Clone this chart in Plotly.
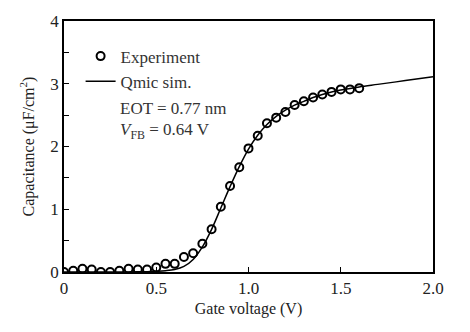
import plotly.graph_objects as go

exp_v = [0.0, 0.05, 0.1, 0.15, 0.2, 0.25, 0.3, 0.35, 0.4, 0.45, 0.5, 0.55, 0.6, 0.65, 0.7,
         0.75, 0.8, 0.85, 0.9, 0.95, 1.0, 1.05, 1.1, 1.15, 1.2, 1.25, 1.3, 1.35, 1.4, 1.45,
         1.5, 1.55, 1.6]
exp_c = [0.0, 0.02, 0.05, 0.04, 0.0, 0.0, 0.02, 0.05, 0.04, 0.04, 0.07, 0.13, 0.13, 0.24, 0.30,
         0.45, 0.68, 1.04, 1.37, 1.67, 1.97, 2.17, 2.37, 2.46, 2.55, 2.66, 2.72, 2.78, 2.83, 2.87,
         2.91, 2.91, 2.93]

sim_v = [0.0, 0.1, 0.2, 0.3, 0.4, 0.45, 0.5, 0.55, 0.6, 0.65, 0.7, 0.75, 0.8, 0.85, 0.9, 0.95,
         1.0, 1.05, 1.1, 1.15, 1.2, 1.25, 1.3, 1.35, 1.4, 1.45, 1.5, 1.6, 1.7, 1.8, 1.9, 2.0]
sim_c = [0.0, 0.0, 0.0, 0.0, 0.003, 0.005, 0.01, 0.02, 0.04, 0.09, 0.2, 0.4, 0.68, 1.02, 1.36, 1.68,
         1.96, 2.18, 2.35, 2.48, 2.58, 2.66, 2.72, 2.78, 2.83, 2.87, 2.9, 2.95, 2.99, 3.03, 3.07, 3.11]

FONT = "Liberation Serif"

fig = go.Figure()
fig.add_trace(go.Scatter(x=sim_v, y=sim_c, mode="lines", name="Qmic sim.",
                         line=dict(color="black", width=1.5, shape="spline")))
fig.add_trace(go.Scatter(x=exp_v, y=exp_c, mode="markers", name="Experiment",
                         marker=dict(symbol="circle-open", size=8, color="black",
                                     line=dict(width=2, color="black"))))

fig.update_layout(
    width=470, height=332,
    margin=dict(l=64, r=37, t=17, b=60),
    paper_bgcolor="white", plot_bgcolor="white",
    font=dict(family=FONT, size=17, color="#222"),
    legend=dict(x=0.045, y=0.93, xanchor="left", yanchor="top", traceorder="reversed",
                font=dict(size=17, color="#333"), itemwidth=30, bgcolor="rgba(0,0,0,0)",
                tracegroupgap=0),
    showlegend=True,
)
fig.update_xaxes(range=[0, 2.0], tickvals=[0, 0.5, 1.0, 1.5, 2.0],
                 ticktext=["0", "0.5", "1.0", "1.5", "2.0"],
                 tickfont=dict(size=17),
                 ticks="inside", ticklen=5, tickwidth=1, tickcolor="black",
                 showline=True, linecolor="black", linewidth=1.5, mirror=True,
                 showgrid=False, zeroline=False,
                 title=dict(text="Gate voltage (V)", font=dict(size=16), standoff=6))
fig.update_yaxes(range=[0, 4], tickvals=[0, 1, 2, 3, 4],
                 tickfont=dict(size=17),
                 ticks="inside", ticklen=5, tickwidth=1, tickcolor="black",
                 minor=dict(tickvals=[0.5, 1.5, 2.5, 3.5], ticks="inside", ticklen=5,
                            tickcolor="black", tickwidth=1),
                 showline=True, linecolor="black", linewidth=1.5, mirror=True,
                 showgrid=False, zeroline=False,
                 title=dict(text="Capacitance (μF/cm<sup>2</sup>)", font=dict(size=16), standoff=12))

fig.add_annotation(x=0.29, y=2.6, xref="x", yref="y", text="EOT = 0.77 nm", showarrow=False,
                   xanchor="left", yanchor="middle", font=dict(size=17, color="#333"))
fig.add_annotation(x=0.29, y=2.25, xref="x", yref="y", text="<i>V</i><sub>FB</sub> = 0.64 V",
                   showarrow=False, xanchor="left", yanchor="middle",
                   font=dict(size=17, color="#333"))

fig.write_html("out.html")
